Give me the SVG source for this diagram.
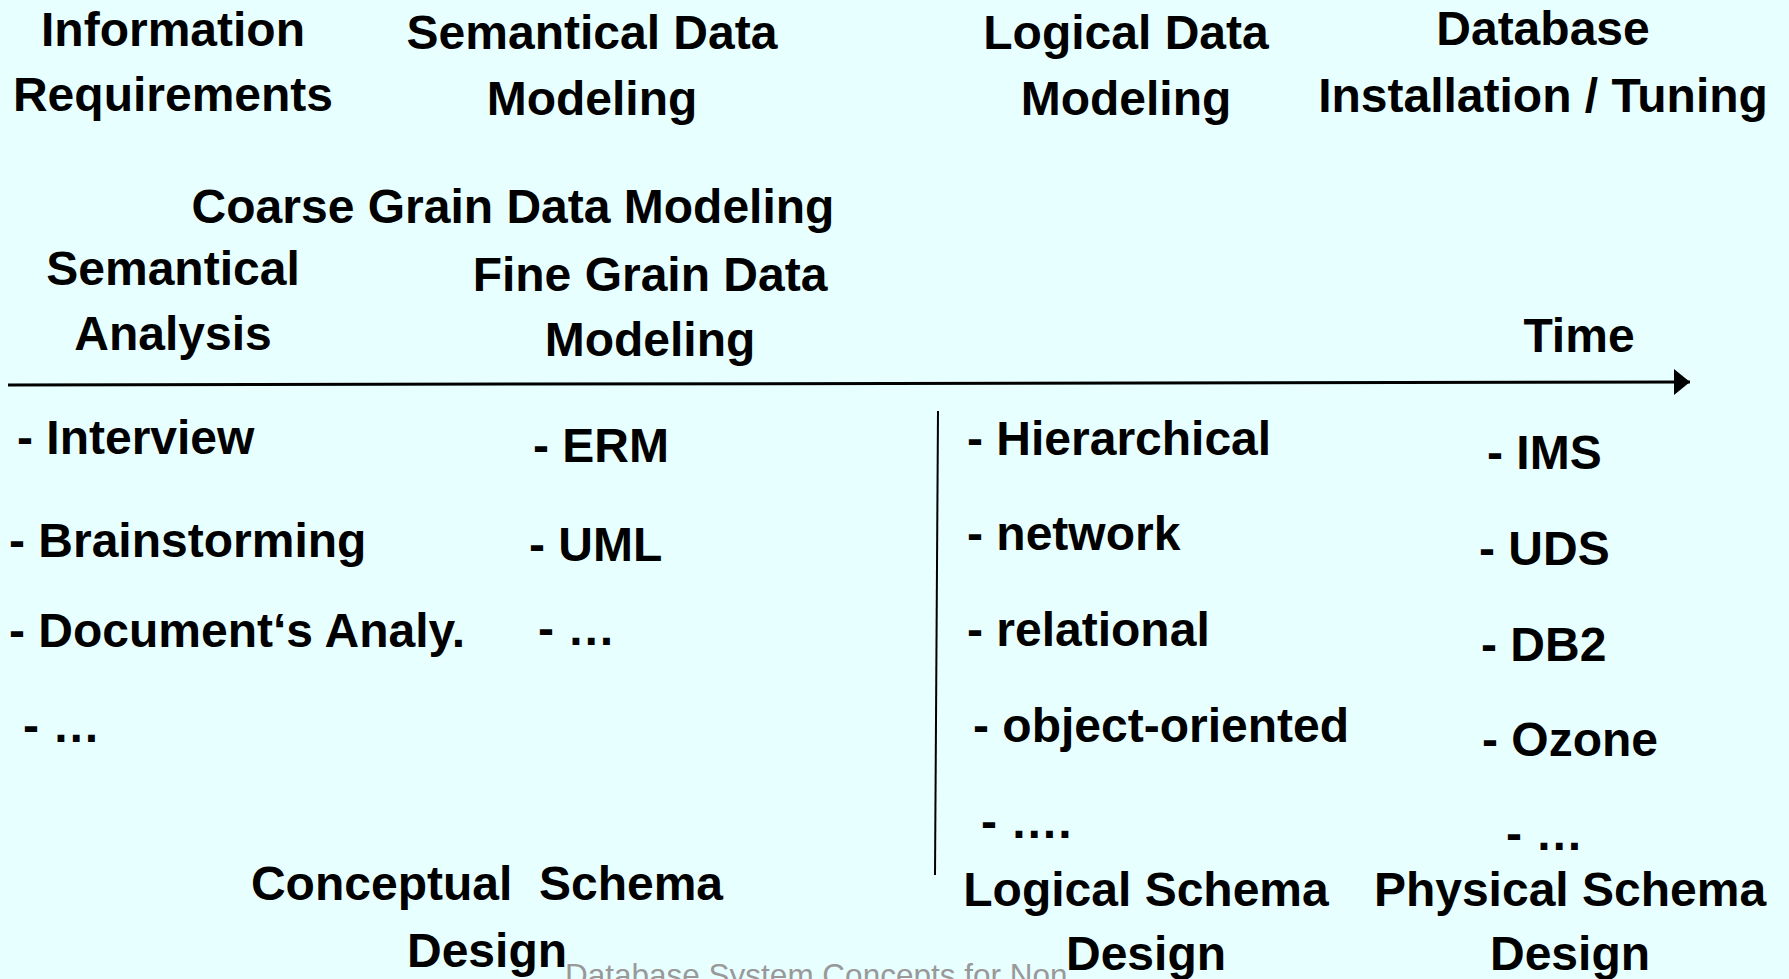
<svg xmlns="http://www.w3.org/2000/svg" width="1789" height="979" viewBox="0 0 1789 979">
<defs>
<style>
.t{font-family:"Liberation Sans",Arial,sans-serif;font-weight:bold;font-size:48px;fill:#000}
.c{text-anchor:middle}
.f{font-family:"Liberation Sans",Arial,sans-serif;font-size:31.5px;fill:#999}
.ln{stroke:#000;fill:none}
</style>
<marker id="ah" markerWidth="16" markerHeight="26" refX="16" refY="13" orient="auto" markerUnits="userSpaceOnUse">
<path d="M0,0 L16,13 L0,26 Z" fill="#000"/>
</marker>
</defs>
<rect width="1789" height="979" fill="#E8FFFF"/>
<text class="f" x="565" y="986">Database System Concepts for Non</text>
<g id="connectors">
<line class="ln" x1="8" y1="385" x2="1690" y2="382" stroke-width="3" marker-end="url(#ah)"/>
<line class="ln" x1="938" y1="411" x2="935" y2="875" stroke-width="2"/>
</g>
<g id="information-requirements"><text class="t c" x="173" y="46">Information</text><text class="t c" x="173" y="111">Requirements</text></g>
<g id="semantical-data-modeling"><text class="t c" x="592" y="49">Semantical Data</text><text class="t c" x="592" y="115">Modeling</text></g>
<g id="logical-data-modeling"><text class="t c" x="1126" y="49">Logical Data</text><text class="t c" x="1126" y="115">Modeling</text></g>
<g id="database-installation"><text class="t c" x="1543" y="45">Database</text><text class="t c" x="1543" y="112">Installation / Tuning</text></g>
<g id="coarse-grain"><text class="t c" x="513" y="223">Coarse Grain Data Modeling</text></g>
<g id="semantical-analysis"><text class="t c" x="173" y="285">Semantical</text><text class="t c" x="173" y="350">Analysis</text></g>
<g id="fine-grain"><text class="t c" x="650" y="291">Fine Grain Data</text><text class="t c" x="650" y="356">Modeling</text></g>
<g id="time"><text class="t c" x="1579" y="352">Time</text></g>
<g id="analysis-methods">
<text class="t" x="17" y="454">- Interview</text>
<text class="t" x="9" y="557">- Brainstorming</text>
<text class="t" x="9" y="647">- Document‘s Analy.</text>
<text class="t" x="23" y="742">- …</text>
</g>
<g id="semantic-models">
<text class="t" x="533" y="462">- ERM</text>
<text class="t" x="529" y="561">- UML</text>
<text class="t" x="538" y="645">- …</text>
</g>
<g id="logical-models">
<text class="t" x="967" y="455">- Hierarchical</text>
<text class="t" x="967" y="550">- network</text>
<text class="t" x="967" y="646">- relational</text>
<text class="t" x="973" y="742">- object-oriented</text>
<text class="t" x="981" y="838">- ….</text>
</g>
<g id="physical-systems">
<text class="t" x="1487" y="469">- IMS</text>
<text class="t" x="1479" y="565">- UDS</text>
<text class="t" x="1481" y="661">- DB2</text>
<text class="t" x="1482" y="756">- Ozone</text>
<text class="t" x="1506" y="850">- …</text>
</g>
<g id="conceptual-schema-design"><text class="t c" x="487" y="900" xml:space="preserve">Conceptual  Schema</text><text class="t c" x="487" y="967">Design</text></g>
<g id="logical-schema-design"><text class="t c" x="1146" y="906">Logical Schema</text><text class="t c" x="1146" y="970">Design</text></g>
<g id="physical-schema-design"><text class="t c" x="1570" y="906">Physical Schema</text><text class="t c" x="1570" y="970">Design</text></g>
</svg>
